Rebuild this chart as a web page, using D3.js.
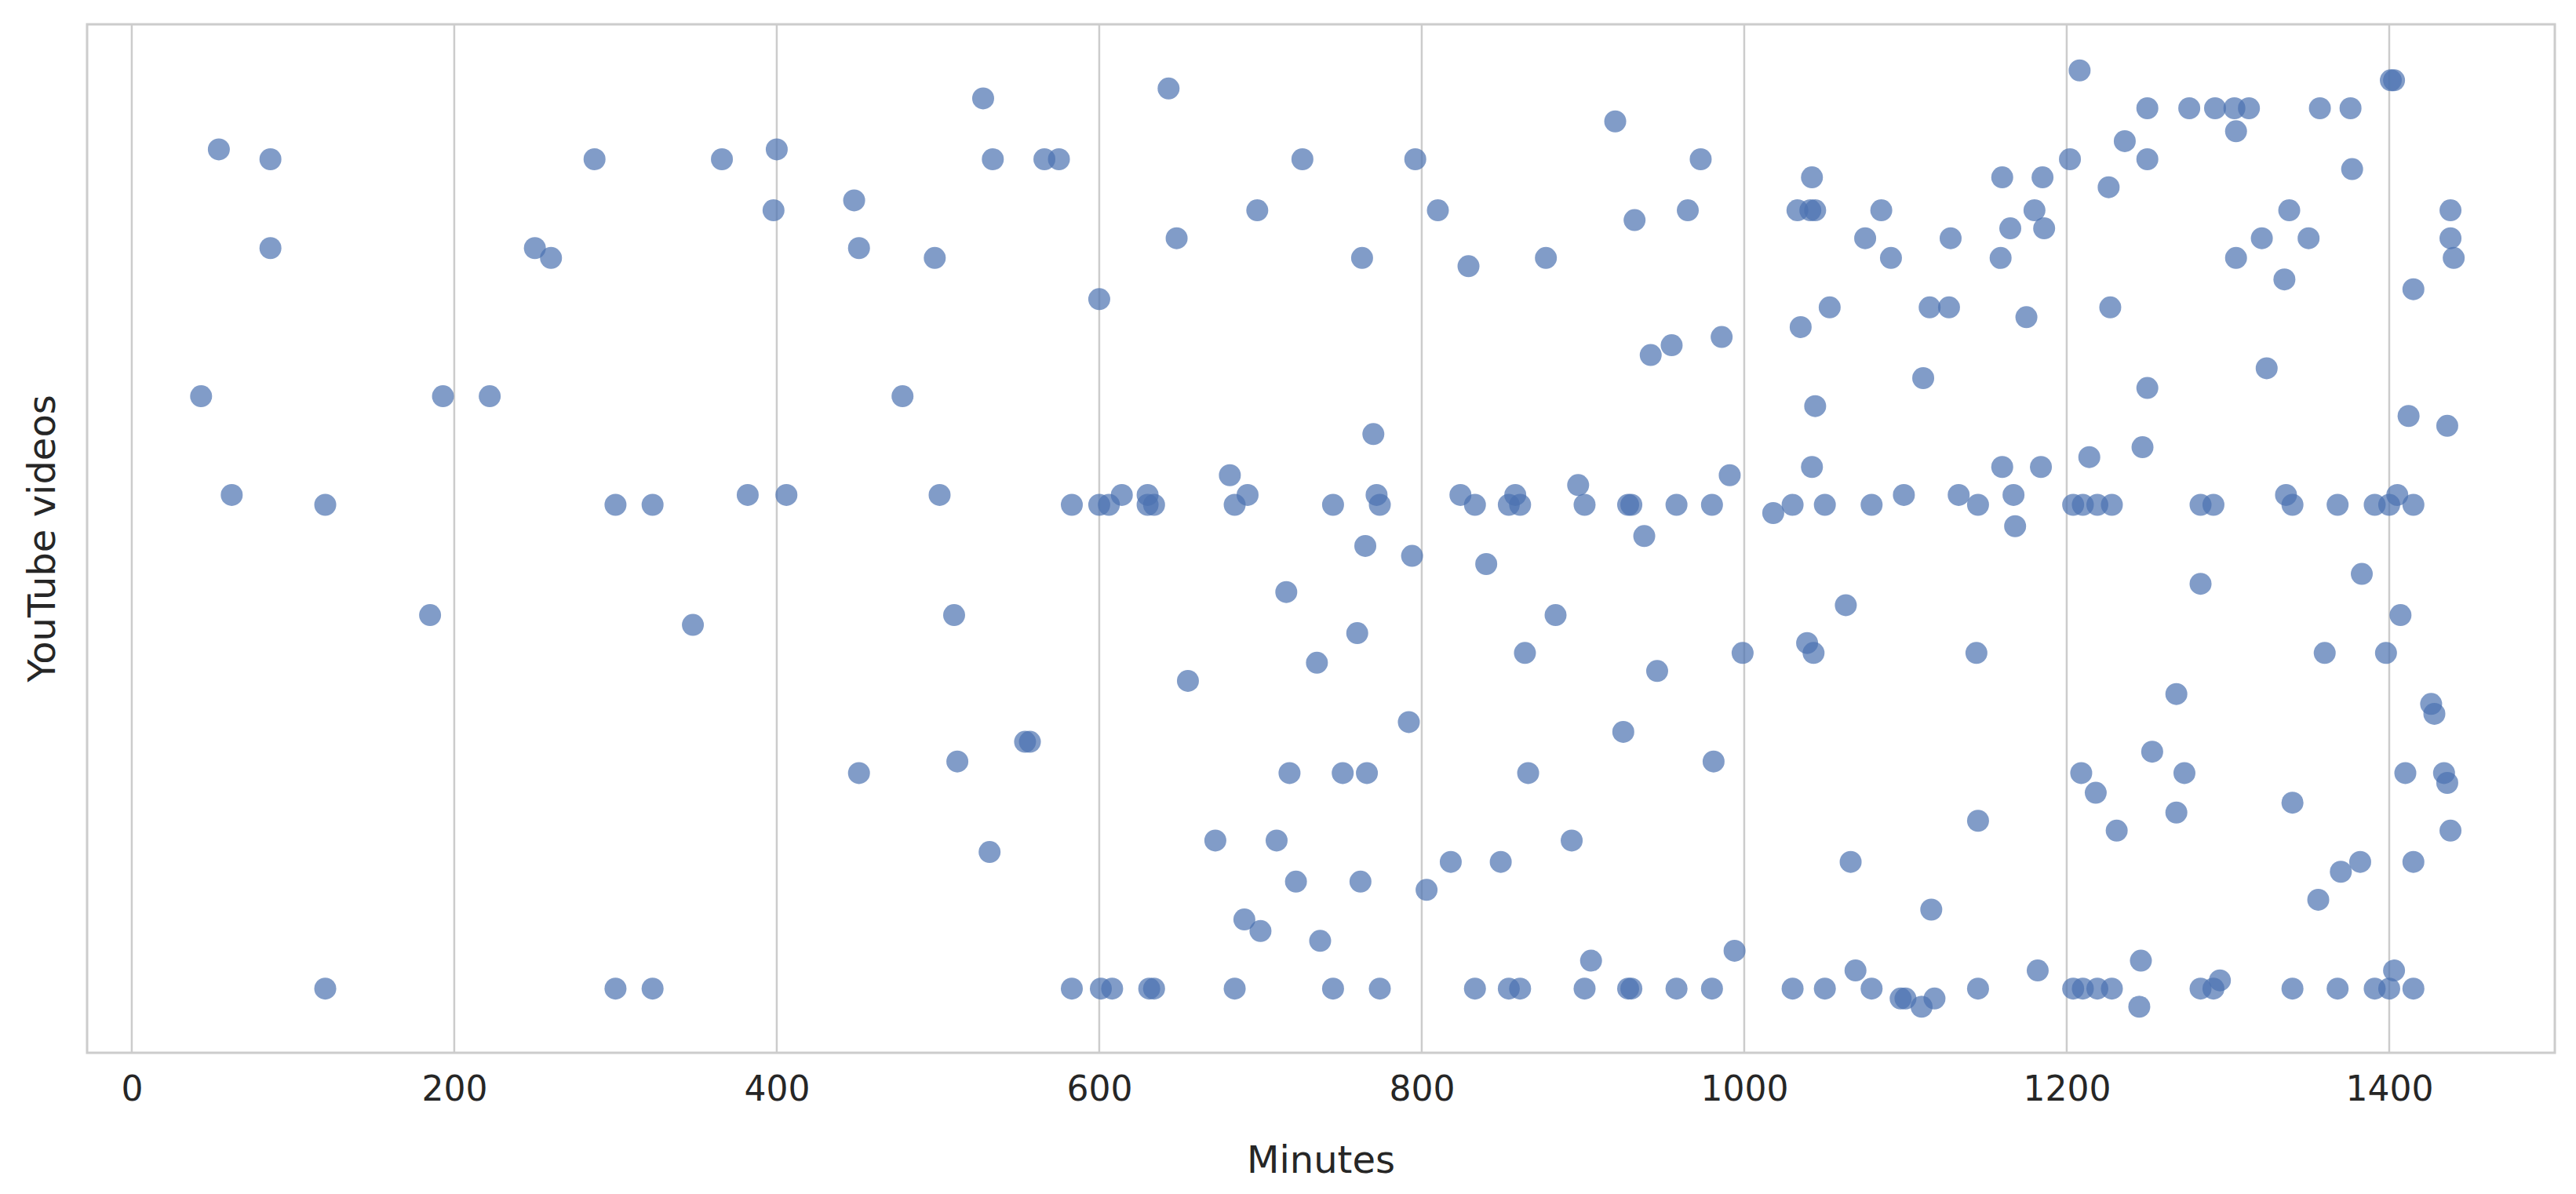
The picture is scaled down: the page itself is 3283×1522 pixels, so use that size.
<!DOCTYPE html>
<html><head><meta charset="utf-8">
<script src="https://cdn.jsdelivr.net/npm/d3@7"></script>
<style>body{margin:0;background:#fff}text{font-family:"DejaVu Sans",sans-serif;fill:#262626}</style>
</head><body><svg id="chart" width="3283" height="1522"></svg>
<script>
// minutes watched vs. video (vertical position = video level, unlabeled)
var minutes = [54,86,86,43,62,120,120,185,193,222,250,260,287,300,300,323,323,348,366,382,398,400,406,448,451,451,478,498,501,510,512,528,532,534,554,557,566,575,583,583,600,600,601,606,608,614,630,630,631,634,634,643,648,655,672,681,684,684,690,692,698,700,710,716,718,722,726,735,737,745,745,751,760,762,763,765,766,770,772,774,774,794,792,796,803,810,818,824,829,833,833,840,849,854,854,858,861,861,864,866,877,883,893,897,901,901,905,920,925,928,928,930,930,932,938,942,946,955,958,958,965,973,980,980,981,986,991,994,999,1018,1030,1030,1033,1035,1039,1041,1042,1042,1043,1044,1044,1050,1050,1053,1063,1066,1069,1075,1079,1079,1085,1091,1097,1099,1100,1110,1111,1115,1116,1118,1127,1128,1133,1144,1145,1145,1145,1159,1160,1160,1165,1167,1168,1175,1180,1182,1184,1185,1186,1202,1204,1204,1208,1209,1210,1210,1214,1218,1219,1219,1226,1228,1228,1227,1231,1236,1245,1246,1247,1250,1250,1250,1253,1268,1268,1273,1276,1283,1283,1283,1291,1291,1292,1295,1304,1305,1305,1313,1321,1324,1335,1336,1338,1340,1340,1340,1350,1356,1357,1360,1368,1368,1370,1376,1377,1382,1383,1391,1391,1398,1400,1400,1401,1403,1403,1405,1407,1410,1412,1415,1415,1415,1415,1426,1428,1434,1436,1436,1438,1438,1438,1440];
var videoLevel = [91,97,151,241,301,307,601,374,241,241,151,157,97,307,601,307,601,380,97,301,128,91,301,122,151,470,241,157,301,374,463,60,518,97,451,451,97,97,307,601,182,307,601,307,601,301,301,307,601,307,601,54,145,414,511,289,307,601,559,301,128,566,511,360,470,536,97,403,572,307,601,470,385,536,157,332,470,264,301,307,601,338,439,97,541,128,524,301,162,307,601,343,524,307,601,301,307,601,397,470,157,374,511,295,307,601,584,74,445,307,601,307,601,134,326,216,408,210,307,601,128,97,307,601,463,205,289,578,397,312,307,601,128,199,391,128,108,284,397,128,247,307,601,187,368,524,590,145,307,601,128,157,607,301,607,612,230,187,553,607,187,145,301,397,499,307,601,157,108,284,139,301,320,193,128,590,284,108,139,97,307,601,43,470,307,601,278,482,307,601,114,307,601,187,505,86,612,584,272,66,97,236,457,422,494,470,66,355,601,307,307,601,66,596,66,80,157,66,145,224,170,301,128,488,307,601,145,547,66,397,307,601,530,66,103,524,349,307,601,397,307,601,49,49,590,301,374,470,253,176,524,307,601,428,434,470,476,259,128,145,505,157];
var xTicks = [0,200,400,600,800,1000,1200,1400];

var svg = d3.select("#chart");
var plotLeft = 111, plotRight = 3256, plotTop = 31, plotBottom = 1342;
var x = d3.scaleLinear().domain([-27.7, 1502.7]).range([plotLeft, plotRight]);
var y = d3.scaleLinear().domain([640, 15]).range([plotBottom, plotTop]);

svg.append("g").selectAll("line").data(xTicks).enter().append("line")
    .attr("x1", d => x(d)).attr("x2", d => x(d))
    .attr("y1", plotTop).attr("y2", plotBottom)
    .attr("stroke", "#cccccc").attr("stroke-width", 2.5);

svg.append("rect").attr("x", plotLeft).attr("y", plotTop)
    .attr("width", plotRight - plotLeft).attr("height", plotBottom - plotTop)
    .attr("fill", "none").attr("stroke", "#cccccc").attr("stroke-width", 3);

svg.append("g").selectAll("circle").data(minutes).enter().append("circle")
    .attr("cx", d => x(d)).attr("cy", (d, i) => y(videoLevel[i]))
    .attr("r", 14).attr("fill", "#4c72b0").attr("fill-opacity", 0.7);

var ax = svg.append("g").attr("transform", "translate(0," + plotBottom + ")")
    .call(d3.axisBottom(x).tickValues(xTicks).tickFormat(d3.format("d")).tickSize(0).tickPadding(30));
ax.select(".domain").remove();
ax.selectAll("text").style("font-size", "44px").attr("fill", "#262626");

svg.append("text").attr("x", (plotLeft + plotRight) / 2).attr("y", 1495)
    .attr("text-anchor", "middle").style("font-size", "48px").text("Minutes");
svg.append("text").attr("transform", "translate(70," + (plotTop + plotBottom) / 2 + ") rotate(-90)")
    .attr("text-anchor", "middle").style("font-size", "48px").text("YouTube videos");
</script></body></html>
